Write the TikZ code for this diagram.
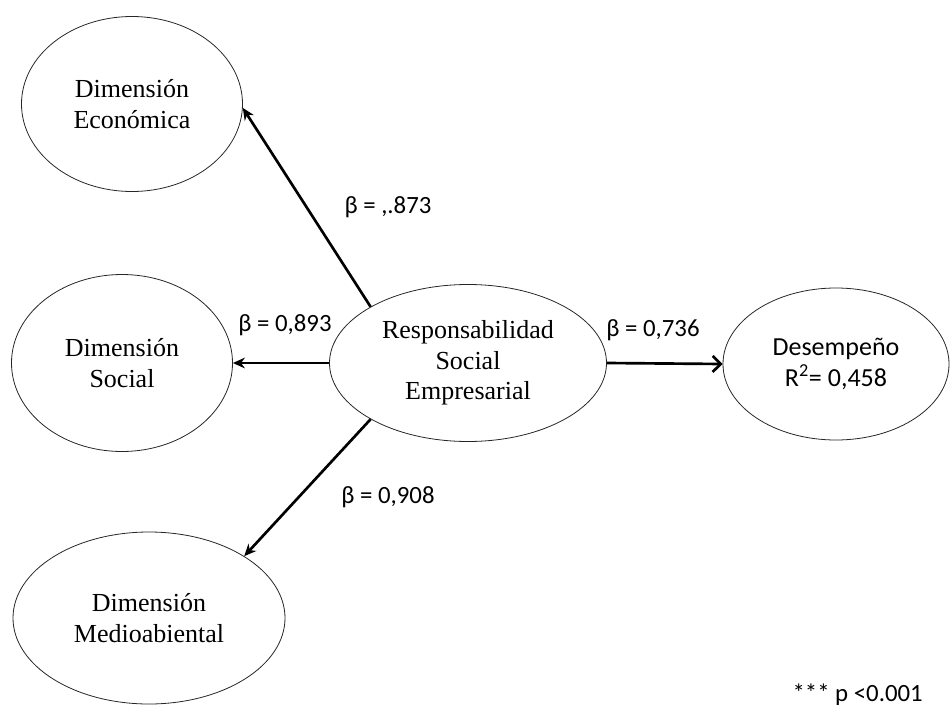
\documentclass[tikz,border=0pt]{standalone}
\usepackage{fontspec}
\setmainfont{Liberation Serif}
\newfontfamily\calibri{Carlito}
\usepackage{tikz}
\usetikzlibrary{shapes.geometric,arrows.meta}
\tikzset{construct/.style={
    ellipse, draw=black!85, line width=.6pt,
    inner sep=0pt, align=center,
    font=\fontsize{19.5}{23}\selectfont
  },
  size/.style 2 args={minimum width=#1*.75pt, minimum height=#2*.75pt},
  effect/.style={line width=2pt, -{Stealth[length=9pt,width=8pt]}},
  effect open/.style={line width=2pt, -{Straight Barb[length=6pt,width=12pt,line width=2pt]}},
  coef/.style={font=\calibri\fontsize{18.6}{22}\selectfont, inner sep=0pt}
}

\begin{document}
\begin{tikzpicture}[x=.75pt,y=-.75pt]
    \useasboundingbox (0,0) rectangle (950,707);

    \node[construct, size={221}{175}] (eco) at (132,104) {Dimensión\\Económica};
    \node[construct, size={221}{177}] (soc) at (122,363) {Dimensión\\Social};
    \node[construct, size={272}{172}] (med) at (149,618) {Dimensión\\Medioabiental};
    \node[construct, size={277}{157}] (rse) at (468,363) {Responsabilidad\\Social\\Empresarial};
    \node[construct, size={226}{152},
          font=\calibri\fontsize{19.5}{23}\selectfont] (des) at (836,364) {Desempeño\\R\textsuperscript{2}= 0,458};

    \draw[effect] (rse.150) -- (eco.-2);
    \draw[effect] (rse.west) -- (soc.east);
    \draw[effect] (rse.210) -- (med.33);
    \draw[effect open] (rse.east) -- (des.west);

    \node[coef] (b-eco) at (388,207) {β = ,.873};
    \node[coef] (b-soc) at (285,325) {β = 0,893};
    \node[coef] (b-med) at (388,497) {β = 0,908};
    \node[coef] (b-des) at (653,330) {β = 0,736};

    \node[coef, anchor=east] (sig) at (923,695) {*** p <0.001};
  \end{tikzpicture}
\end{document}
